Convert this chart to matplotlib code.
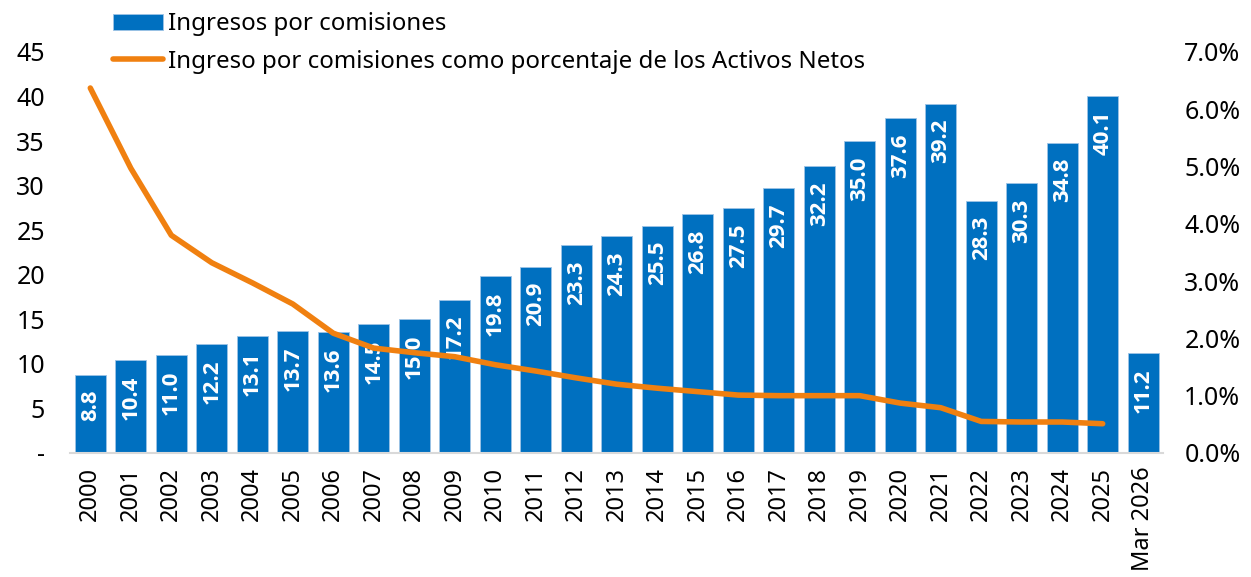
import matplotlib
matplotlib.use("Agg")
import matplotlib.pyplot as plt
from matplotlib.ticker import FuncFormatter, MultipleLocator

plt.rcParams['font.family'] = ['Noto Sans', 'DejaVu Sans']

# datos
years = ['2000', '2001', '2002', '2003', '2004', '2005', '2006', '2007', '2008',
         '2009', '2010', '2011', '2012', '2013', '2014', '2015', '2016', '2017',
         '2018', '2019', '2020', '2021', '2022', '2023', '2024', '2025', 'Mar 2026']
ingresos = [8.8, 10.4, 11.0, 12.2, 13.1, 13.7, 13.6, 14.5, 15.0, 17.2, 19.8, 20.9,
            23.3, 24.3, 25.5, 26.8, 27.5, 29.7, 32.2, 35.0, 37.6, 39.2, 28.3, 30.3,
            34.8, 40.1, 11.2]
# % de activos netos (sin dato para Mar 2026)
pct_activos = [6.37, 4.97, 3.80, 3.32, 2.97, 2.60, 2.09, 1.83, 1.75, 1.68, 1.54,
               1.43, 1.31, 1.20, 1.13, 1.07, 1.01, 1.00, 1.00, 1.00, 0.87, 0.79,
               0.55, 0.54, 0.54, 0.51]

azul = '#0070C0'
naranja = '#F08010'

fig = plt.figure(figsize=(12.51, 5.77), dpi=100)
ax = fig.add_axes([0.056, 0.215, 0.874, 0.695])
x = list(range(len(years)))

barras = ax.bar(x, ingresos, width=0.77, color=azul, edgecolor='#9dc3e6',
                linewidth=0.6, label='Ingresos por comisiones', zorder=2)
for xi, v in zip(x, ingresos):
    # etiqueta dentro del extremo de la barra
    ax.annotate(f'{v:.1f}', (xi, v), xytext=(0, -11), textcoords='offset points',
                ha='center', va='top', rotation=90, color='white',
                fontsize=16, fontweight='bold', family=['Open Sans', 'DejaVu Sans'],
                zorder=5)

ax.set_ylim(0, 45)
ax.set_xlim(-0.5, len(years) - 0.5)
ax.yaxis.set_major_locator(MultipleLocator(5))
ax.yaxis.set_major_formatter(FuncFormatter(lambda v, p: '-' if v == 0 else f'{v:.0f}'))
ax.set_xticks(x)
ax.set_xticklabels(years, rotation=90)
ax.tick_params(axis='y', length=0, labelsize=18, pad=18)
ax.tick_params(axis='x', length=0, labelsize=17, pad=10)
for s in ['top', 'right', 'left']:
    ax.spines[s].set_visible(False)
ax.spines['bottom'].set_color('#d9d9d9')
ax.spines['bottom'].set_linewidth(1.5)

ax2 = ax.twinx()
linea, = ax2.plot(x[:len(pct_activos)], pct_activos, color=naranja, linewidth=4,
                  solid_capstyle='round', solid_joinstyle='round',
                  label='Ingreso por comisiones como porcentaje de los Activos Netos', zorder=3)
ax2.set_ylim(0, 7)
ax2.yaxis.set_major_locator(MultipleLocator(1))
ax2.yaxis.set_major_formatter(FuncFormatter(lambda v, p: f'{v:.1f}%'))
ax2.tick_params(axis='y', length=0, labelsize=18, pad=15)
for s in ax2.spines.values():
    s.set_visible(False)

fig.legend([barras, linea], ['Ingresos por comisiones',
                             'Ingreso por comisiones como porcentaje de los Activos Netos'],
           loc='upper left', bbox_to_anchor=(0.073, 1.016), frameon=False,
           fontsize=17.3, handlelength=2.1, handletextpad=0.2, labelspacing=0.55)

fig.savefig('out.png', dpi=100)
